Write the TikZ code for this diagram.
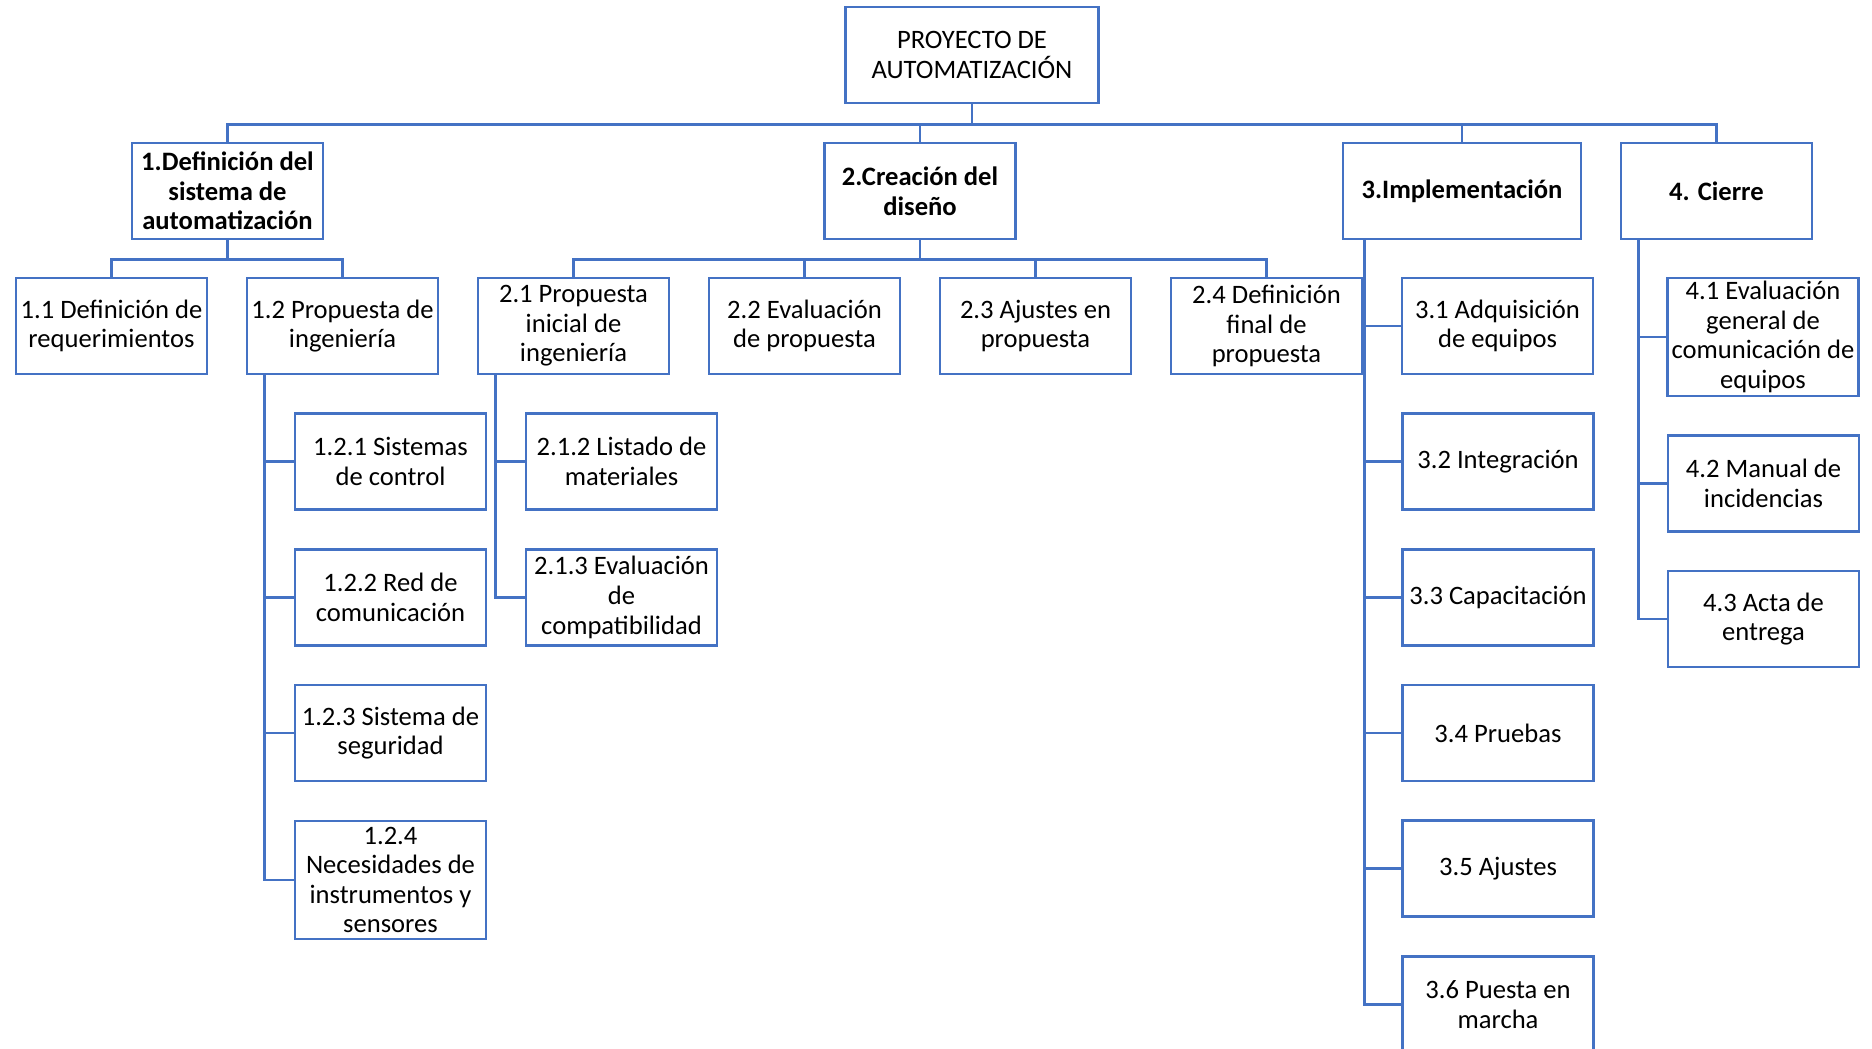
\documentclass[tikz,border=0pt]{standalone}
\usepackage{fontspec}
\setmainfont{Carlito}
\definecolor{wbsblue}{HTML}{4472C4}
\begin{document}
\begin{tikzpicture}[x=1pt, y=-1pt,
		box/.style={draw=wbsblue, line width=2.6, fill=white, align=center, inner sep=0pt,
			minimum width=191, minimum height=96, font=\fontsize{26.6}{29.6}\selectfont},
		head/.style={box, font=\fontsize{26.6}{29.6}\selectfont\bfseries},
		tall/.style={box, minimum height=118},
		link/.style={draw=wbsblue, line width=2.6}]
			\useasboundingbox (0,0) rectangle (1872,1049);
			
			% Root
			\node[box, minimum width=253] (root) at (972,55) {PROYECTO DE\\AUTOMATIZACIÓN};
			
			% Phases
			\node[head] (d1) at (227.5,191) {1.Definición del\\sistema de\\automatización};
			\node[head] (d2) at (920,191) {2.Creación del\\diseño};
			\node[head, minimum width=238] (d3) at (1462,191) {3.Implementación};
			\node[head] (d4) at (1716.5,191) {4. Cierre};
			
			% Second level
			\node[box] (n11) at (111.5,326) {1.1 Definición de\\requerimientos};
			\node[box] (n12) at (342.5,326) {1.2 Propuesta de\\ingeniería};
			\node[box] (n21) at (573.5,326) {2.1 Propuesta\\inicial de\\ingeniería};
			\node[box] (n22) at (804.5,326) {2.2 Evaluación\\de propuesta};
			\node[box] (n23) at (1035.5,326) {2.3 Ajustes en\\propuesta};
			\node[box] (n24) at (1266.5,326) {2.4 Definición\\final de\\propuesta};
			\node[box] (n31) at (1497.5,326) {3.1 Adquisición\\de equipos};
			\node[tall] (n41) at (1763,337) {4.1 Evaluación\\general de\\comunicación de\\equipos};
			
			% Third level
			\node[box] (n121) at (390.5,461.5) {1.2.1 Sistemas\\de control};
			\node[box] (n122) at (390.5,597.5) {1.2.2 Red de\\comunicación};
			\node[box] (n123) at (390.5,733) {1.2.3 Sistema de\\seguridad};
			\node[tall] (n124) at (390.5,880) {1.2.4\\Necesidades de\\instrumentos y\\sensores};
			\node[box] (n212) at (621.5,461.5) {2.1.2 Listado de\\materiales};
			\node[box] (n213) at (621.5,597.5) {2.1.3 Evaluación\\de\\compatibilidad};
			\node[box] (n32) at (1498,461.5) {3.2 Integración};
			\node[box] (n33) at (1498,597.5) {3.3 Capacitación};
			\node[box] (n34) at (1498,733) {3.4 Pruebas};
			\node[box] (n35) at (1498,868.5) {3.5 Ajustes};
			\node[box] (n36) at (1498,1004.5) {3.6 Puesta en\\marcha};
			\node[box] (n42) at (1763.5,483.5) {4.2 Manual de\\incidencias};
			\node[box] (n43) at (1763.5,619) {4.3 Acta de\\entrega};
			
			% Top branches
			\draw[link] (root.south) -- ++(0,20) -| (d1.north);
			\draw[link] (root.south) -- ++(0,20) -| (d2.north);
			\draw[link] (root.south) -- ++(0,20) -| (d3.north);
			\draw[link] (root.south) -- ++(0,20) -| (d4.north);
			\draw[link] (d1.south) -- ++(0,19) -| (n11.north);
			\draw[link] (d1.south) -- ++(0,19) -| (n12.north);
			\draw[link] (d2.south) -- ++(0,19) -| (n21.north);
			\draw[link] (d2.south) -- ++(0,19) -| (n22.north);
			\draw[link] (d2.south) -- ++(0,19) -| (n23.north);
			\draw[link] (d2.south) -- ++(0,19) -| (n24.north);
			
			% Side branches
			\draw[link] ([xshift=19]n12.south west) |- (n121.west);
			\draw[link] ([xshift=19]n12.south west) |- (n122.west);
			\draw[link] ([xshift=19]n12.south west) |- (n123.west);
			\draw[link] ([xshift=19]n12.south west) |- (n124.west);
			\draw[link] ([xshift=19]n21.south west) |- (n212.west);
			\draw[link] ([xshift=19]n21.south west) |- (n213.west);
			\draw[link] ([xshift=23]d3.south west) |- (n31.west);
			\draw[link] ([xshift=23]d3.south west) |- (n32.west);
			\draw[link] ([xshift=23]d3.south west) |- (n33.west);
			\draw[link] ([xshift=23]d3.south west) |- (n34.west);
			\draw[link] ([xshift=23]d3.south west) |- (n35.west);
			\draw[link] ([xshift=23]d3.south west) |- (n36.west);
			\draw[link] ([xshift=19]d4.south west) |- (n41.west);
			\draw[link] ([xshift=19]d4.south west) |- (n42.west);
			\draw[link] ([xshift=19]d4.south west) |- (n43.west);
		\end{tikzpicture}
\end{document}
